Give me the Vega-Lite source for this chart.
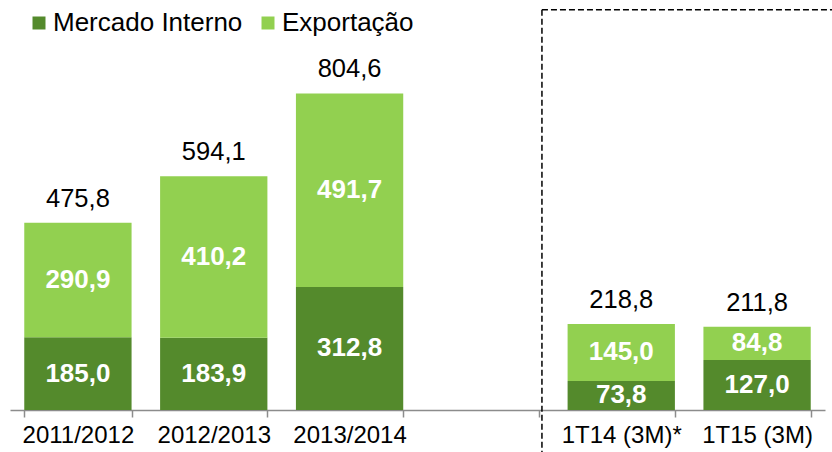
{
  "$schema": "https://vega.github.io/schema/vega-lite/v6.json",
  "width": 815,
  "height": 410,
  "padding": {"left": 10, "top": 0, "right": 0, "bottom": 0},
  "autosize": {"type": "pad"},
  "config": {
    "font": "Liberation Sans",
    "view": {"stroke": null},
    "locale": {"number": {"decimal": ",", "thousands": ".", "grouping": [3], "currency": ["", ""]}}
  },
  "datasets": {
    "series": [
      {"cat": "2011/2012", "serie": "Mercado Interno", "valor": 185.0},
      {"cat": "2011/2012", "serie": "Exportação", "valor": 290.9},
      {"cat": "2012/2013", "serie": "Mercado Interno", "valor": 183.9},
      {"cat": "2012/2013", "serie": "Exportação", "valor": 410.2},
      {"cat": "2013/2014", "serie": "Mercado Interno", "valor": 312.8},
      {"cat": "2013/2014", "serie": "Exportação", "valor": 491.7},
      {"cat": "1T14 (3M)*", "serie": "Mercado Interno", "valor": 73.8},
      {"cat": "1T14 (3M)*", "serie": "Exportação", "valor": 145.0},
      {"cat": "1T15 (3M)", "serie": "Mercado Interno", "valor": 127.0},
      {"cat": "1T15 (3M)", "serie": "Exportação", "valor": 84.8}
    ],
    "totals": [
      {"cat": "2011/2012", "total": 475.8},
      {"cat": "2012/2013", "total": 594.1},
      {"cat": "2013/2014", "total": 804.6},
      {"cat": "1T14 (3M)*", "total": 218.8},
      {"cat": "1T15 (3M)", "total": 211.8}
    ],
    "one": [{}]
  },
  "layer": [
    {
      "data": {"name": "series"},
      "mark": {"type": "bar"},
      "encoding": {
        "x": {
          "field": "cat", "type": "nominal",
          "scale": {"domain": ["2011/2012", "2012/2013", "2013/2014", " ", "1T14 (3M)*", "1T15 (3M)"], "paddingInner": 0.21, "paddingOuter": 0.105},
          "axis": {"title": null, "tickBand": "extent", "labelAngle": 0, "labelFontSize": 24, "labelColor": "#000000", "domainColor": "#8c8c8c", "tickColor": "#8c8c8c", "tickSize": 7, "domainWidth": 1.5, "tickWidth": 1.5, "labelPadding": 6, "grid": false}
        },
        "y": {"field": "valor", "type": "quantitative", "stack": "zero", "scale": {"domain": [0, 1042], "nice": false}, "axis": null},
        "color": {
          "field": "serie", "type": "nominal",
          "scale": {"domain": ["Mercado Interno", "Exportação"], "range": ["#548a2c", "#92d050"]},
          "legend": {"title": null, "orient": "none", "legendX": 16, "legendY": 10, "direction": "horizontal", "symbolType": "square", "symbolSize": 169, "symbolStrokeWidth": 0, "labelFontSize": 26, "labelColor": "#000000", "labelOffset": 1, "labelLimit": 400, "columnPadding": 12}
        },
        "order": {"field": "serie", "sort": "descending"}
      }
    },
    {
      "data": {"name": "series"},
      "transform": [
        {"stack": "valor", "groupby": ["cat"], "sort": [{"field": "serie", "order": "descending"}], "as": ["v0", "v1"]},
        {"calculate": "(datum.v0 + datum.v1) / 2", "as": "mid"}
      ],
      "mark": {"type": "text", "color": "#ffffff", "fontWeight": "bold", "fontSize": 26, "baseline": "middle", "align": "center"},
      "encoding": {
        "x": {"field": "cat", "type": "nominal", "scale": {"domain": ["2011/2012", "2012/2013", "2013/2014", " ", "1T14 (3M)*", "1T15 (3M)"], "paddingInner": 0.21, "paddingOuter": 0.105}},
        "y": {"field": "mid", "type": "quantitative"},
        "text": {"field": "valor", "type": "quantitative", "format": ".1f"}
      }
    },
    {
      "data": {"name": "totals"},
      "mark": {"type": "text", "color": "#000000", "fontSize": 25.5, "baseline": "alphabetic", "align": "center", "dy": -16},
      "encoding": {
        "x": {"field": "cat", "type": "nominal", "scale": {"domain": ["2011/2012", "2012/2013", "2013/2014", " ", "1T14 (3M)*", "1T15 (3M)"], "paddingInner": 0.21, "paddingOuter": 0.105}},
        "y": {"field": "total", "type": "quantitative"},
        "text": {"field": "total", "type": "quantitative", "format": ".1f"}
      }
    },
    {
      "data": {"name": "one"},
      "mark": {"type": "rule", "color": "#000000", "strokeWidth": 1.5, "strokeDash": [6, 3], "clip": false},
      "encoding": {
        "x": {"datum": "1T14 (3M)*", "type": "nominal", "bandPosition": -0.239, "scale": {"domain": ["2011/2012", "2012/2013", "2013/2014", " ", "1T14 (3M)*", "1T15 (3M)"], "paddingInner": 0.21, "paddingOuter": 0.105}},
        "y": {"datum": 1017, "type": "quantitative"},
        "y2": {"datum": -110}
      }
    },
    {
      "data": {"name": "one"},
      "mark": {"type": "rule", "color": "#000000", "strokeWidth": 1.5, "strokeDash": [6, 3], "clip": false},
      "encoding": {
        "x": {"datum": "1T14 (3M)*", "type": "nominal", "bandPosition": -0.239, "scale": {"domain": ["2011/2012", "2012/2013", "2013/2014", " ", "1T14 (3M)*", "1T15 (3M)"], "paddingInner": 0.21, "paddingOuter": 0.105}},
        "x2": {"datum": "1T15 (3M)", "bandPosition": 1.2},
        "y": {"datum": 1017, "type": "quantitative"}
      }
    }
  ]
}
